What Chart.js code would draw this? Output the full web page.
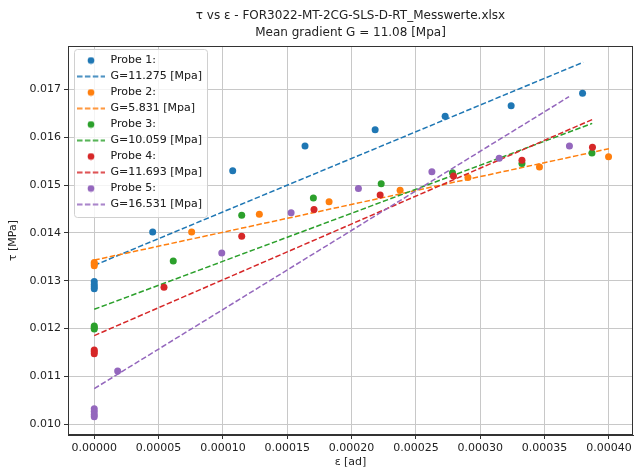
<!DOCTYPE html>
<html>
<head>
<meta charset="utf-8">
<script src="https://cdn.jsdelivr.net/npm/chart.js@4.4.1/dist/chart.umd.min.js"></script>
<style>
  html, body { margin: 0; padding: 0; background: #fff; }
  #wrap { width: 638px; height: 475px; }
</style>
</head>
<body>
<div id="wrap"><canvas id="chart" width="638" height="475"></canvas></div>
<script>
// text
const titleLines = ["τ vs ε - FOR3022-MT-2CG-SLS-D-RT_Messwerte.xlsx", "Mean gradient G = 11.08 [Mpa]"];
const xTitle = "ε [ad]";
const yTitle = "τ [MPa]";
const probeLabels = ["Probe 1:", "Probe 2:", "Probe 3:", "Probe 4:", "Probe 5:"];
const gradientLabels = ["G=11.275 [Mpa]", "G=5.831 [Mpa]", "G=10.059 [Mpa]", "G=11.693 [Mpa]", "G=16.531 [Mpa]"];

const p1Strain = [0, 0, 0, 0, 0.0000454, 0.0001076, 0.0001638, 0.0002183, 0.0002727, 0.000324, 0.0003795];
const p1Stress = [0.01298, 0.01292, 0.01287, 0.01283, 0.01402, 0.01530, 0.01582, 0.01616, 0.01644, 0.01666, 0.01692];
const p2Strain = [0, 0, 0, 0.0000757, 0.0001283, 0.0001825, 0.0002377, 0.0002904, 0.000346, 0.0003997];
const p2Stress = [0.01338, 0.01335, 0.01331, 0.01402, 0.01439, 0.01465, 0.01489, 0.01516, 0.01538, 0.01559];
const p3Strain = [0, 0, 0, 0.0000614, 0.0001146, 0.0001703, 0.000223, 0.0002784, 0.0003324, 0.0003868];
const p3Stress = [0.01205, 0.01202, 0.01199, 0.01341, 0.01437, 0.01473, 0.01503, 0.01526, 0.01545, 0.01567];
const p4Strain = [0, 0, 0, 0.0000542, 0.0001146, 0.0001708, 0.0002222, 0.0002792, 0.0003324, 0.0003872];
const p4Stress = [0.01155, 0.01151, 0.01147, 0.01286, 0.01393, 0.01449, 0.01479, 0.01519, 0.01552, 0.01579];
const p5Strain = [0, 0, 0, 0, 0.0000182, 0.0000991, 0.000153, 0.0002053, 0.0002624, 0.0003147, 0.0003693];
const p5Stress = [0.01032, 0.01026, 0.01020, 0.01015, 0.01111, 0.01358, 0.01442, 0.01493, 0.01528, 0.01556, 0.01582];

// fitted lines, start and end points
const fitStrain = [[0, 0.00038], [0, 0.0004], [0, 0.000387], [0, 0.000387], [0, 0.000369]];
const fitStress = [[0.01332, 0.01757], [0.01343, 0.01576], [0.01240, 0.01629], [0.01185, 0.01637], [0.01074, 0.01685]];

const colors = ["#1f77b4", "#ff7f0e", "#2ca02c", "#d62728", "#9467bd"];
const strains = [p1Strain, p2Strain, p3Strain, p4Strain, p5Strain];
const stresses = [p1Stress, p2Stress, p3Stress, p4Stress, p5Stress];

function pairs(xs, ys){ return xs.map((x,i)=>({x: x, y: ys[i]})); }

// little legend icons (drawn a bit right of centre, like the mpl handles)
function dotIcon(color){
  const c = document.createElement("canvas");
  c.width = 12; c.height = 8;
  const g = c.getContext("2d");
  g.fillStyle = color;
  g.beginPath(); g.arc(8, 4, 3.3, 0, Math.PI*2); g.fill();
  return c;
}
function dashIcon(color){
  const c = document.createElement("canvas");
  c.width = 34; c.height = 4;
  const g = c.getContext("2d");
  g.strokeStyle = color; g.lineWidth = 1.5;
  g.setLineDash([5.5, 2.4]);
  g.beginPath(); g.moveTo(5, 2); g.lineTo(33, 2); g.stroke();
  return c;
}

const datasets = [];
const legendIcons = [];
for(let i=0;i<5;i++){
  datasets.push({
    label: probeLabels[i], data: pairs(strains[i], stresses[i]),
    backgroundColor: colors[i], borderColor: colors[i],
    pointRadius: 3.5, pointBorderWidth: 0, showLine: false, order: 20 - 2*i
  });
  legendIcons.push(dotIcon(colors[i]));
  datasets.push({
    label: gradientLabels[i], data: pairs(fitStrain[i], fitStress[i]),
    borderColor: colors[i], backgroundColor: colors[i],
    borderWidth: 1.5, borderDash: [5.5, 2.4], pointRadius: 0, showLine: true, order: 19 - 2*i
  });
  legendIcons.push(dashIcon(colors[i]));
}

// title over the plot area, frame on all four sides, legend box
const decor = {
  id: "decor",
  afterDraw(chart){
    const ctx = chart.ctx, a = chart.chartArea;
    ctx.save();
    ctx.fillStyle = "#222";
    ctx.font = "12px 'DejaVu Sans'";
    ctx.textAlign = "center"; ctx.textBaseline = "middle";
    const cx = (a.left + a.right)/2;
    ctx.fillText(titleLines[0], cx, 16);
    ctx.fillText(titleLines[1], cx, 33);
    ctx.strokeStyle = "#333"; ctx.lineWidth = 1;
    ctx.strokeRect(a.left + 0.5, a.top + 0.5, a.right - a.left - 1, a.bottom - a.top - 1);
    // legend frame
    const hb = chart.legend.legendHitBoxes;
    if(hb && hb.length){
      const l = Math.min(...hb.map(h=>h.left)) + 1;
      const r = Math.max(...hb.map(h=>h.left + h.width)) + 5;
      const t = Math.min(...hb.map(h=>h.top)) - 6;
      const b = Math.max(...hb.map(h=>h.top + h.height)) + 7;
      ctx.beginPath();
      ctx.roundRect(l + 0.5, t + 0.5, r - l, b - t, 3);
      ctx.fillStyle = "rgba(255,255,255,0.8)";
      ctx.fill();
      ctx.strokeStyle = "#d0d0d0";
      ctx.stroke();
    }
    ctx.restore();
    chart.legend.draw();
  }
};

Chart.defaults.font.family = "'DejaVu Sans'";
Chart.defaults.font.size = 11;
Chart.defaults.color = "#222";

new Chart(document.getElementById("chart"), {
  type: "scatter",
  data: { datasets: datasets },
  options: {
    responsive: false, animation: false, devicePixelRatio: 1,
    layout: { padding: { top: 46, right: 5, left: 0, bottom: 0 } },
    plugins: {
      title: { display: false },
      tooltip: { enabled: false },
      legend: {
        position: "chartArea", align: "start",
        // the chartArea legend is laid out from the canvas top, so push it down
        title: { display: true, text: "", padding: { top: 49, bottom: 0 }, font: { size: 1, lineHeight: 1 } },
        labels: {
          usePointStyle: true, pointStyleWidth: 32, padding: 5,
          font: { size: 11 }, color: "#222",
          generateLabels: (chart) => chart.data.datasets.map((ds, i) => ({
            text: ds.label, pointStyle: legendIcons[i], fillStyle: ds.borderColor,
            strokeStyle: ds.borderColor, lineWidth: 0, hidden: false, datasetIndex: i, fontColor: "#222"
          }))
        }
      }
    },
    scales: {
      x: {
        type: "linear", min: -0.0000204, max: 0.0004187,
        afterFit(s){ s.height = 40; },
        title: { display: true, text: xTitle, padding: { top: 0, bottom: 6 } },
        grid: { color: "#c8c8c8", lineWidth: 1, tickLength: 4, tickColor: "#333" },
        border: { color: "#333", width: 1 },
        ticks: { stepSize: 0.00005, includeBounds: false, padding: 3, maxRotation: 0,
          callback: v => (Math.abs(v) < 1e-12 ? 0 : v).toFixed(5) }
      },
      y: {
        type: "linear", min: 0.00977, max: 0.01791,
        afterFit(s){ s.width = 68; },
        title: { display: true, text: yTitle, padding: { top: 7, bottom: 0 } },
        grid: { color: "#c8c8c8", lineWidth: 1, tickLength: 4, tickColor: "#333" },
        border: { color: "#333", width: 1 },
        ticks: { stepSize: 0.001, includeBounds: false, padding: 3,
          callback: v => v.toFixed(3) }
      }
    }
  },
  plugins: [decor]
});
</script>
</body>
</html>
